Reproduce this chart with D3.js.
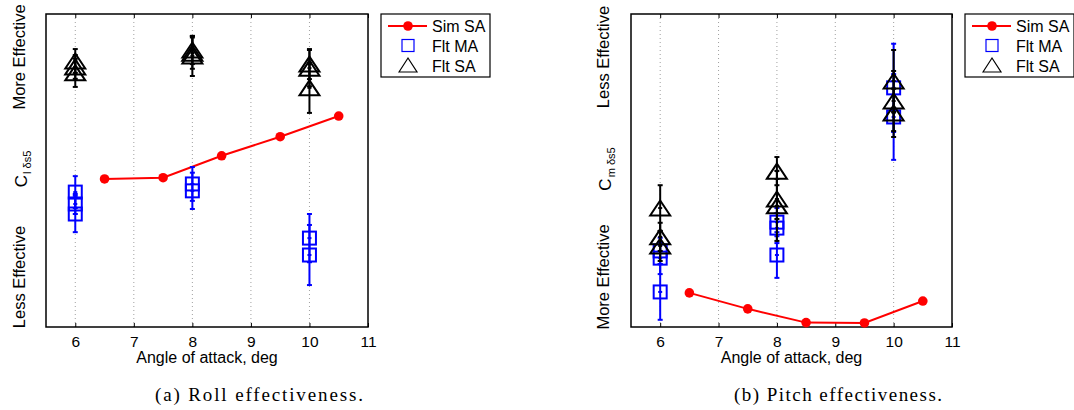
<!DOCTYPE html>
<html>
<head>
<meta charset="utf-8">
<script src="https://cdn.jsdelivr.net/npm/d3@7/dist/d3.min.js"></script>
<style>
  body { margin: 0; background: #fff; }
  svg { display: block; }
  .sans { font-family: "Liberation Sans", Arial, Helvetica, sans-serif; }
  .serif { font-family: "Liberation Serif", "DejaVu Serif", serif; }
</style>
</head>
<body>
<svg id="chart" width="1074" height="410"></svg>
<script>
// ---------- DATA ----------
const xTicks = [6, 7, 8, 9, 10, 11];
const gridTicks = [6, 7, 8, 9, 10];
const simX = [6.5, 7.5, 8.5, 9.5, 10.5];
const legendLabels = ["Sim SA", "Flt MA", "Flt SA"];

// (a) Roll effectiveness (normalized, arbitrary units: 0 = bottom, 1 = top)
const rollSim = [0.473, 0.477, 0.547, 0.608, 0.674];
const rollMAx   = [6, 6, 6, 8, 8, 10, 10];
const rollMAy   = [0.431, 0.393, 0.361, 0.457, 0.435, 0.284, 0.230];
const rollMAerr = [0.051, 0.032, 0.058, 0.054, 0.058, 0.077, 0.096];
const rollSAx   = [6, 6, 6, 8, 8, 8, 10, 10, 10];
const rollSAy   = [0.850, 0.831, 0.812, 0.885, 0.875, 0.866, 0.840, 0.827, 0.764];
const rollSAerr = [0.038, 0.038, 0.045, 0.045, 0.050, 0.064, 0.048, 0.058, 0.080];

// (b) Pitch effectiveness
const pitchSim = [0.109, 0.058, 0.014, 0.013, 0.083];
const pitchMAx   = [6, 6, 6, 8, 8, 8, 10, 10];
const pitchMAy   = [0.243, 0.220, 0.112, 0.335, 0.316, 0.230, 0.764, 0.671];
const pitchMAerr = [0.042, 0.051, 0.089, 0.045, 0.048, 0.073, 0.141, 0.137];
const pitchSAx   = [6, 6, 6, 8, 8, 8, 10, 10, 10];
const pitchSAy   = [0.380, 0.288, 0.259, 0.498, 0.409, 0.387, 0.786, 0.722, 0.684];
const pitchSAerr = [0.073, 0.045, 0.048, 0.045, 0.064, 0.112, 0.099, 0.096, 0.077];

// ---------- LAYOUT ----------
const panels = [
  { left: 46, right: 368, top: 14, bottom: 327,
    sim: rollSim, maX: rollMAx, maY: rollMAy, maE: rollMAerr,
    saX: rollSAx, saY: rollSAy, saE: rollSAerr,
    topLabel: "More Effective", botLabel: "Less Effective", sub: "l δs5",
    labelX: 26, legendX: 381, caption: "(a)  Roll effectiveness.", capX: 259 },
  { left: 631, right: 952, top: 14, bottom: 327,
    sim: pitchSim, maX: pitchMAx, maY: pitchMAy, maE: pitchMAerr,
    saX: pitchSAx, saY: pitchSAy, saE: pitchSAerr,
    topLabel: "Less Effective", botLabel: "More Effective", sub: "m δs5",
    labelX: 610, legendX: 965, caption: "(b)  Pitch effectiveness.", capX: 838 }
];

const svg = d3.select("#chart");
const BLUE = "#0000ff", RED = "#ff0000";

function triPath(cx, cy, w, h) {
  return `M${cx - w / 2},${cy + h / 2}L${cx},${cy - h / 2}L${cx + w / 2},${cy + h / 2}Z`;
}

panels.forEach(p => {
  const x = d3.scaleLinear().domain([5.5, 11]).range([p.left, p.right]);
  const y = d3.scaleLinear().domain([0, 1]).range([p.bottom, p.top]);
  const g = svg.append("g");

  // grid (dotted vertical)
  g.selectAll(".grid").data(gridTicks).join("line")
    .attr("x1", d => x(d)).attr("x2", d => x(d))
    .attr("y1", p.top).attr("y2", p.bottom)
    .attr("stroke", "#888").attr("stroke-width", 0.8)
    .attr("stroke-dasharray", "1,3");

  // bottom axis
  const xAxis = d3.axisBottom(x).tickValues(xTicks).tickFormat(d3.format("d"))
    .tickSizeInner(-4).tickSizeOuter(0).tickPadding(9);
  const ax = g.append("g").attr("transform", `translate(0,${p.bottom})`).call(xAxis);
  ax.select(".domain").remove();
  ax.selectAll(".tick line").attr("stroke", "#000");
  ax.selectAll(".tick text").attr("class", "sans").attr("font-size", 15.5).attr("fill", "#000");
  // top ticks
  const tAxis = d3.axisTop(x).tickValues(xTicks).tickFormat("").tickSizeInner(-4).tickSizeOuter(0);
  const at = g.append("g").attr("transform", `translate(0,${p.top})`).call(tAxis);
  at.select(".domain").remove();
  at.selectAll(".tick line").attr("stroke", "#000");

  // box
  g.append("rect").attr("x", p.left).attr("y", p.top)
    .attr("width", p.right - p.left).attr("height", p.bottom - p.top)
    .attr("fill", "none").attr("stroke", "#000").attr("stroke-width", 1.5);

  // Sim SA line + dots
  const line = d3.line().x((d, i) => x(simX[i])).y(d => y(d));
  g.append("path").datum(p.sim).attr("d", line)
    .attr("fill", "none").attr("stroke", RED).attr("stroke-width", 2);
  g.selectAll(".sim").data(p.sim).join("circle")
    .attr("cx", (d, i) => x(simX[i])).attr("cy", d => y(d)).attr("r", 4.8)
    .attr("fill", RED);

  // error bars helper
  function errBars(xs, ys, es, color) {
    const eg = g.append("g").attr("stroke", color).attr("stroke-width", 2);
    ys.forEach((v, i) => {
      const cx = x(xs[i]);
      eg.append("line").attr("x1", cx).attr("x2", cx)
        .attr("y1", y(v - es[i])).attr("y2", y(v + es[i]));
      [v - es[i], v + es[i]].forEach(e => {
        eg.append("line").attr("x1", cx - 2.5).attr("x2", cx + 2.5)
          .attr("y1", y(e)).attr("y2", y(e));
      });
      eg.append("line").attr("x1", cx - 2).attr("x2", cx + 2)
        .attr("y1", y(v)).attr("y2", y(v));
    });
  }

  // Flt MA squares
  errBars(p.maX, p.maY, p.maE, BLUE);
  g.selectAll(".ma").data(p.maY).join("rect")
    .attr("x", (d, i) => x(p.maX[i]) - 6.5).attr("y", d => y(d) - 6.5)
    .attr("width", 13).attr("height", 13)
    .attr("fill", "none").attr("stroke", BLUE).attr("stroke-width", 2);

  // Flt SA triangles
  errBars(p.saX, p.saY, p.saE, "#000");
  g.selectAll(".sa").data(p.saY).join("path")
    .attr("d", (d, i) => triPath(x(p.saX[i]), y(d), 20, 15))
    .attr("fill", "none").attr("stroke", "#000").attr("stroke-width", 2)
    .attr("stroke-linejoin", "miter");

  // x label
  g.append("text").attr("class", "sans").attr("x", (p.left + p.right) / 2).attr("y", 363)
    .attr("text-anchor", "middle").attr("font-size", 16).text("Angle of attack, deg");

  // y labels
  const yl = (txt, cy) => g.append("text").attr("class", "sans")
    .attr("transform", `translate(${p.labelX - 1},${cy}) rotate(-90)`)
    .attr("text-anchor", "middle").attr("font-size", 16.5).text(txt);
  yl(p.topLabel, 57);
  yl(p.botLabel, 277);
  const ct = g.append("text").attr("class", "sans")
    .attr("transform", `translate(${p.labelX + 1},${169}) rotate(-90)`)
    .attr("text-anchor", "middle").attr("font-size", 17);
  ct.append("tspan").text("C");
  ct.append("tspan").attr("font-size", 11).attr("dy", 4).attr("dx", 1).text(p.sub);

  // legend
  const lx = p.legendX;
  const lg = g.append("g");
  lg.append("rect").attr("x", lx).attr("y", 14).attr("width", 109).attr("height", 63)
    .attr("fill", "#fff").attr("stroke", "#000").attr("stroke-width", 1.2);
  const mx = lx + 27;
  lg.append("line").attr("x1", lx + 7).attr("x2", lx + 46).attr("y1", 26).attr("y2", 26)
    .attr("stroke", RED).attr("stroke-width", 2);
  lg.append("circle").attr("cx", mx).attr("cy", 26).attr("r", 4.8).attr("fill", RED);
  lg.append("rect").attr("x", mx - 6).attr("y", 39.5).attr("width", 12).attr("height", 12)
    .attr("fill", "none").attr("stroke", BLUE).attr("stroke-width", 1.2);
  lg.append("path").attr("d", triPath(mx, 65, 18, 14))
    .attr("fill", "none").attr("stroke", "#000").attr("stroke-width", 1.2);
  lg.selectAll(".lt").data(legendLabels).join("text").attr("class", "sans")
    .attr("x", lx + 51).attr("y", (d, i) => 32 + i * 20)
    .attr("font-size", 16).text(d => d);

  // caption
  g.append("text").attr("class", "serif").attr("x", p.capX).attr("y", 401)
    .attr("text-anchor", "middle").attr("font-size", 19)
    .attr("textLength", 208).attr("lengthAdjust", "spacing").text(p.caption);
});
</script>
</body>
</html>
